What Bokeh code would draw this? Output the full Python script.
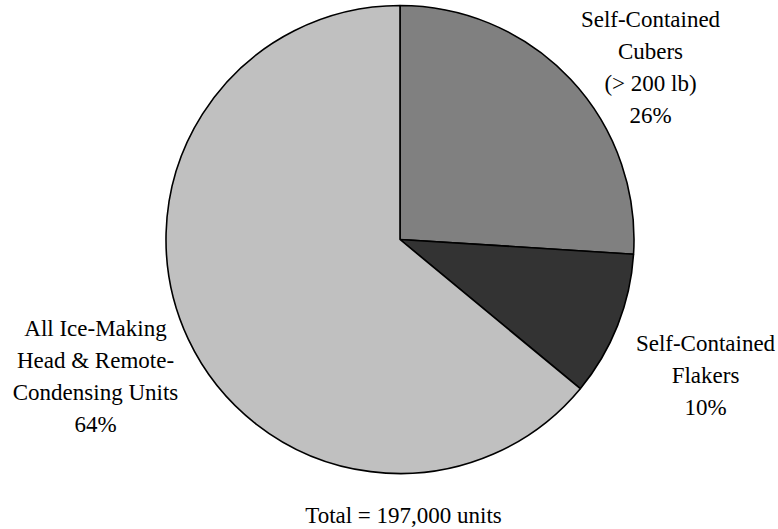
import numpy as np
from bokeh.plotting import figure
from bokeh.models import ColumnDataSource, Range1d
from bokeh.core.properties import value
from bokeh.embed import file_html
from bokeh.resources import INLINE

categories = ["Self-Contained\nCubers\n(> 200 lb)", "Self-Contained\nFlakers", "All Ice-Making\nHead & Remote-\nCondensing Units"]
shares = [26, 10, 64]
colors = ["#808080", "#333333", "#c0c0c0"]
total_label = "Total = 197,000 units"

W, H = 778, 529
cx, cy, r = 399.5, H - 239.0, 234.0
FONT = "Liberation Serif"

frac = np.array(shares, dtype=float) / sum(shares)
cum = np.concatenate([[0], np.cumsum(frac)])
start = np.pi / 2 - cum[1:] * 2 * np.pi
end = np.pi / 2 - cum[:-1] * 2 * np.pi

p = figure(width=W, height=H, output_backend="svg", toolbar_location=None,
           x_range=Range1d(0, W), y_range=Range1d(0, H), min_border=0)
p.axis.visible = False
p.grid.visible = False
p.outline_line_color = None

src = ColumnDataSource(dict(start=start, end=end, color=colors))
p.wedge(x=cx, y=cy, radius=r, start_angle="start", end_angle="end",
        fill_color="color", line_color="black", line_width=1.6, source=src)

labels = [f"{c}\n{s}%" for c, s in zip(categories, shares)]
lx = [650, 705, 95]
ly = [H - 66.5, H - 374.5, H - 376.0]
p.text(x=lx, y=ly, text=labels, text_align="center", text_baseline="middle",
       text_font=value(FONT), text_font_size="23px",
       text_line_height=1.28, text_color="black")

p.text(x=[403], y=[H - 515], text=[total_label], text_align="center", text_baseline="middle",
       text_font=value(FONT), text_font_size="23px", text_color="black")

open("out.html", "w").write(file_html(p, INLINE))
